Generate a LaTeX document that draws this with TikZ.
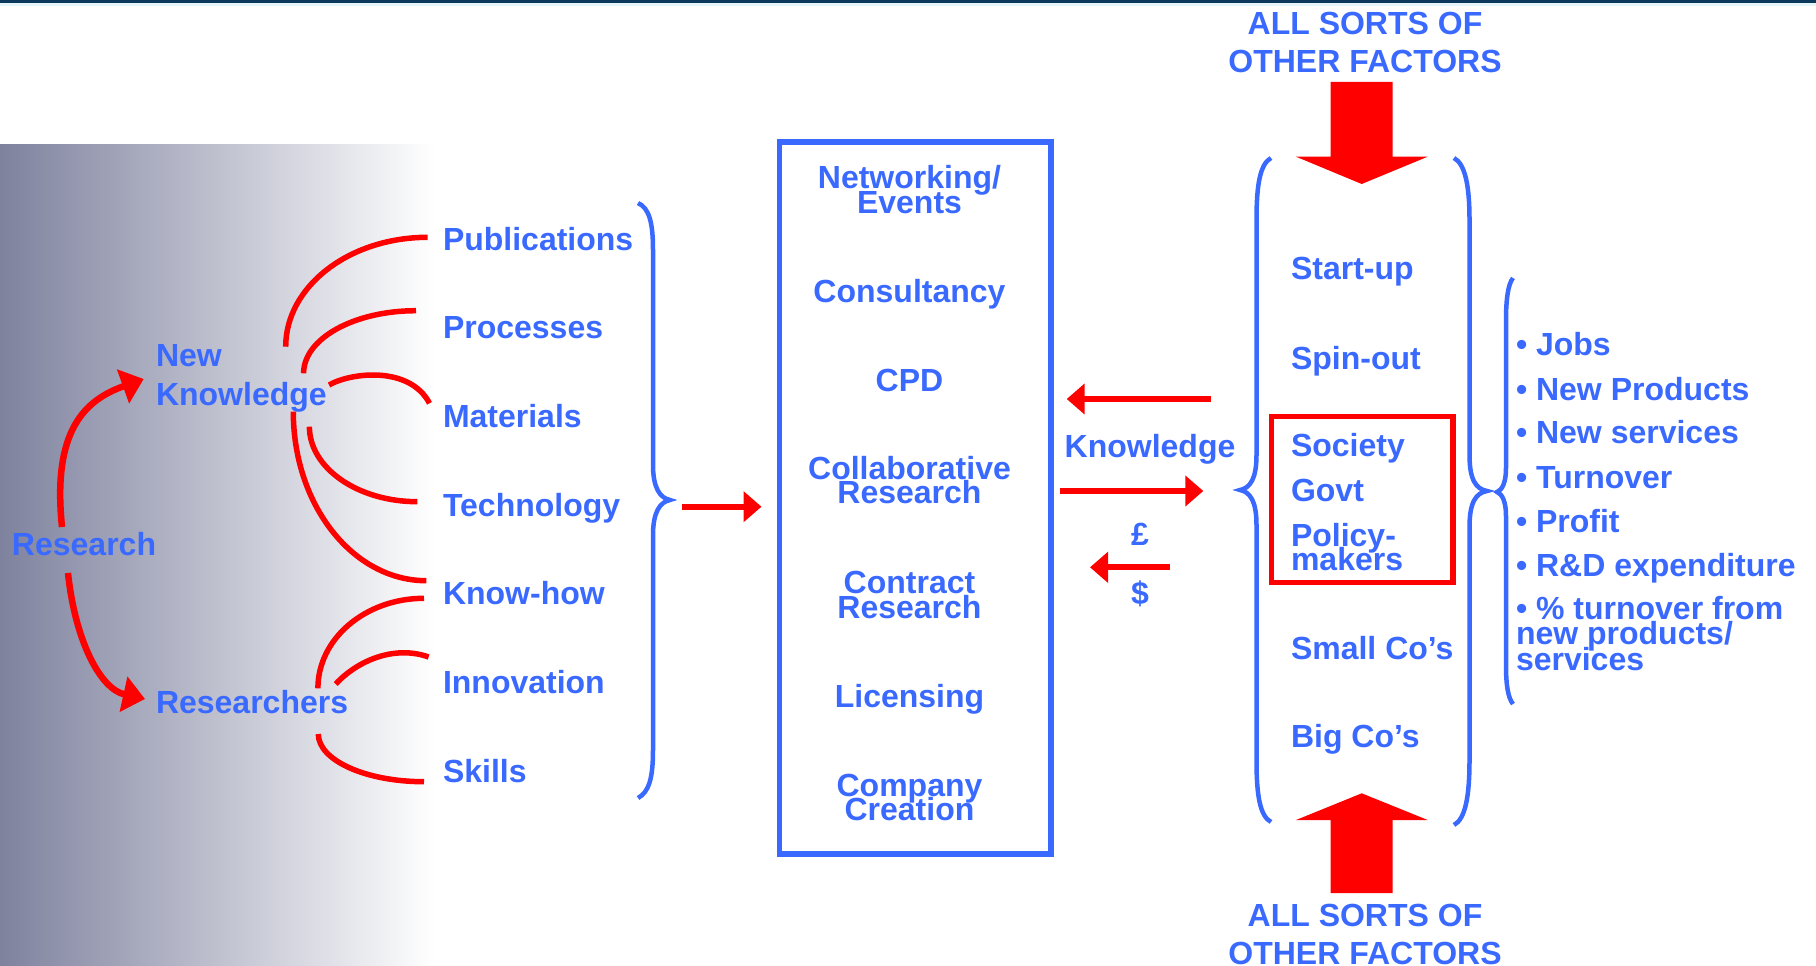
\documentclass[tikz,border=0pt]{standalone}
\usepackage{fontspec}
\setmainfont{Liberation Sans}
\usetikzlibrary{arrows.meta}
\definecolor{tblue}{RGB}{58,105,255}
\definecolor{tred}{RGB}{255,0,0}
\definecolor{navy}{RGB}{12,56,92}
\definecolor{cyanfade}{RGB}{228,246,250}
\definecolor{shadeL}{RGB}{126,130,158}
\newcommand\bigfont[1]{\bfseries\fontsize{32}{#1}\selectfont\lineskiplimit=-200pt\lineskip=0pt\relax}
\tikzset{
  lbl/.style={inner sep=0pt, outer sep=0pt, text=tblue, font=\bigfont{24.5}},
  redcurve/.style={draw=tred, line width=5.5pt},
  redarrow/.style={draw=tred, line width=6pt, -{Triangle[length=18pt,width=30pt]}},
  resarrow/.style={draw=tred, line width=6.5pt, -{Triangle[length=22pt,width=35pt]}},
  bracepath/.style={draw=tblue, line width=4.5pt},
  framebox/.style={draw=tblue, line width=5.5pt},
  redframe/.style={draw=tred, line width=5.3pt},
  blockarrow/.style={fill=tred},
}
\begin{document}
\begin{tikzpicture}[x=1pt,y=-1pt]
\useasboundingbox (0,0) rectangle (1816,966);
% top bar and background gradient
\fill[navy] (0,0) rectangle (1816,3.5);
\fill[cyanfade] (0,3.5) rectangle (1816,6);
\shade[left color=shadeL, right color=white] (0,144) rectangle (434,966);

% ---------- left texts ----------
\node[lbl, anchor=base west] (pub)  at (443,250) {Publications};
\node[lbl, anchor=base west] (proc) at (443,338) {Processes};
\node[lbl, anchor=base west] (mat)  at (443,427) {Materials};
\node[lbl, anchor=base west] (tech) at (443,516) {Technology};
\node[lbl, anchor=base west] (kh)   at (443,604) {Know-how};
\node[lbl, anchor=base west] (inn)  at (443,693) {Innovation};
\node[lbl, anchor=base west] (sk)   at (443,782) {Skills};
\node[lbl, anchor=base west, align=left, font=\bigfont{39}] (nk) at (156,405) {New\\Knowledge};
\node[lbl, anchor=base west] (res)  at (12,555) {Research};
\node[lbl, anchor=base west] (rers) at (156,713) {Researchers};

% ---------- red curves from New Knowledge / Researchers ----------
\coordinate (nkA) at (285.7,346.7); \coordinate (pubE) at (427.7,237.3);
\coordinate (nkB) at (303.6,373.3); \coordinate (procE) at (416,310.7);
\coordinate (nkC) at (329,385);     \coordinate (matE) at (429.5,403.3);
\coordinate (nkD) at (309.4,426.7); \coordinate (techE) at (417.4,501.7);
\coordinate (nkE) at (293.3,411.7); \coordinate (khE) at (426.3,580.7);
\coordinate (rA) at (317.9,688.3);  \coordinate (khE2) at (424,598.3);
\coordinate (rB) at (335.7,684);    \coordinate (innE) at (428.6,657);
\coordinate (rC) at (318.3,734);    \coordinate (skE) at (424,781.7);
\draw[redcurve] (nkA) .. controls (285.7,286.3) and (349.3,237.3) .. (pubE);
\draw[redcurve] (nkB) .. controls (303.6,338.7) and (353.9,310.7) .. (procE);
\draw[redcurve] (nkC) .. controls (352,372) and (410,366) .. (matE);
\draw[redcurve] (nkD) .. controls (309.4,468) and (357.8,501.7) .. (techE);
\draw[redcurve] (nkE) .. controls (293.3,505) and (352.9,580.7) .. (khE);
\draw[redcurve] (rA) .. controls (317.9,638.6) and (365.5,598.3) .. (khE2);
\draw[redcurve] (rB) .. controls (358,660) and (395,645) .. (innE);
\draw[redcurve] (rC) .. controls (318.3,760.3) and (365.7,781.7) .. (skE);

% Research arrows
\coordinate (resUp) at (62,527);
\coordinate (resDn) at (68,573);
\draw[resarrow] (resUp) .. controls (52,430) and (85,400) .. (143.7,379);
\draw[resarrow] (resDn) .. controls (75,640) and (100,689) .. (145,699);

% left brace
\draw[bracepath] (638,203) .. controls (649,208) and (653,222) .. (653,250) -- (653,465)
  .. controls (653,488) and (660,498) .. (670,500) .. controls (660,502) and (653,512) .. (653,535)
  -- (653,750) .. controls (653,778) and (649,792) .. (638,798);

% arrow to middle box
\coordinate (a1s) at (682,506.7);
\coordinate (a1e) at (761.5,506.7);
\draw[redarrow] (a1s) -- (a1e);

% ---------- middle box ----------
\draw[framebox] (779.5,142) rectangle (1051,854);
\node[lbl, align=center, anchor=base] (net)  at (909.5,213.3) {Networking/\\Events};
\node[lbl, anchor=base] (cons) at (909.5,302.7) {Consultancy};
\node[lbl, anchor=base] (cpd)  at (909.5,391.7) {CPD};
\node[lbl, align=center, anchor=base] (coll) at (909.5,503.5) {Collaborative\\Research};
\node[lbl, align=center, anchor=base] (contr) at (909.5,618.3) {Contract\\Research};
\node[lbl, anchor=base] (lic)  at (909.5,707.7) {Licensing};
\node[lbl, align=center, anchor=base] (comp) at (909.5,820.5) {Company\\Creation};

% knowledge / money arrows
\node[lbl, anchor=base] (know) at (1150,457.3) {Knowledge};
\node[lbl, anchor=base] (pound) at (1140,545) {£};
\node[lbl, anchor=base] (dollar) at (1140,604) {\$};
\coordinate (kLs) at (1211,399);   \coordinate (kLe) at (1066.7,399);
\coordinate (kRs) at (1060,491);   \coordinate (kRe) at (1203.3,491);
\coordinate (mLs) at (1170,567.3); \coordinate (mLe) at (1090,567.3);
\draw[redarrow] (kLs) -- (kLe);
\draw[redarrow] (kRs) -- (kRe);
\draw[redarrow] (mLs) -- (mLe);

% ---------- right group ----------
\draw[bracepath] (1271,158) .. controls (1260,164) and (1256.5,185) .. (1256.5,220) -- (1256.5,455)
  .. controls (1256.5,479) and (1250,488) .. (1240,490) .. controls (1250,492) and (1256.5,501) .. (1256.5,525)
  -- (1256.5,760) .. controls (1256.5,796) and (1260,816) .. (1271,822);
\draw[bracepath] (1454,158) .. controls (1465,164) and (1469.5,185) .. (1469.5,220) -- (1469.5,455)
  .. controls (1469.5,480) and (1476,489) .. (1487,491) .. controls (1476,493) and (1469.5,502) .. (1469.5,527)
  -- (1469.5,760) .. controls (1469.5,798) and (1465,819) .. (1454,825);
\draw[redframe] (1271.5,416.5) rectangle (1453,582.5);

\node[lbl, anchor=base west] (start) at (1291,279.3) {Start-up};
\node[lbl, anchor=base west] (spin)  at (1291,369.3) {Spin-out};
\node[lbl, anchor=base west] (soc)   at (1291,456) {Society};
\node[lbl, anchor=base west] (govt)  at (1291,501.7) {Govt};
\node[lbl, anchor=base west, align=left] (pol) at (1291,570.5) {Policy-\\makers};
\node[lbl, anchor=base west] (small) at (1291,659.3) {Small Co’s};
\node[lbl, anchor=base west] (big)   at (1291,747.3) {Big Co’s};

% block arrows
\fill[blockarrow] (1330.7,82) -- (1392.7,82) -- (1392.7,156.7) -- (1427.7,156.7) -- (1361.7,184)
  -- (1296,156.7) -- (1330.7,156.7) -- cycle;
\fill[blockarrow] (1330.7,893) -- (1392.7,893) -- (1392.7,820) -- (1427.7,820) -- (1361.7,793.3)
  -- (1296,820) -- (1330.7,820) -- cycle;
\node[lbl, align=center, anchor=base, font=\bigfont{38}] (topf) at (1365,73) {ALL SORTS OF\\OTHER FACTORS};
\node[lbl, align=center, anchor=base, font=\bigfont{38}] (botf) at (1365,964.6) {ALL SORTS OF\\OTHER FACTORS};

% ---------- outcomes ----------
\draw[bracepath] (1513,278) .. controls (1508,284) and (1506,300) .. (1506,320) -- (1506,468)
  .. controls (1506,483) and (1502,490) .. (1497,492) .. controls (1502,494) and (1506,501) .. (1506,516)
  -- (1506,665) .. controls (1506,685) and (1508,698) .. (1513,704);
\node[lbl, anchor=base west] (o1) at (1516,355) {• Jobs};
\node[lbl, anchor=base west] (o2) at (1516,400) {• New Products};
\node[lbl, anchor=base west] (o3) at (1516,443.3) {• New services};
\node[lbl, anchor=base west] (o4) at (1516,488.3) {• Turnover};
\node[lbl, anchor=base west] (o5) at (1516,532.7) {• Profit};
\node[lbl, anchor=base west] (o6) at (1516,576.7) {• R\&D expenditure};
\node[lbl, anchor=base west, align=left, font=\bigfont{25.3}] (o7) at (1516,670) {• \% turnover from\\new products/\\services};
\end{tikzpicture}
\end{document}
